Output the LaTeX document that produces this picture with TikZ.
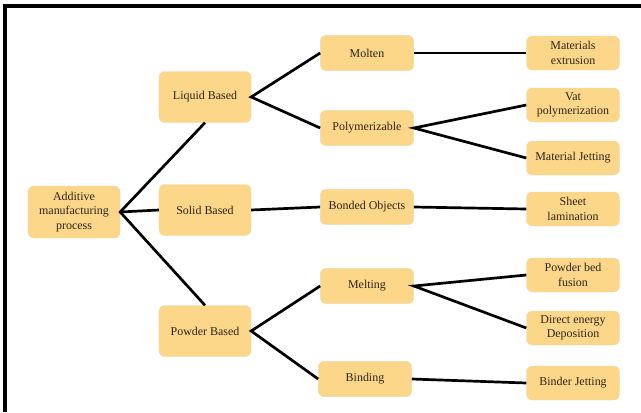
\documentclass[tikz,border=0pt]{standalone}
\usepackage{fontspec}
\setmainfont{Liberation Serif}
\usetikzlibrary{positioning}
\usepackage{xcolor}
\definecolor{amfill}{RGB}{252, 215, 137}
\definecolor{amtext}{RGB}{45, 35, 25}
\tikzset{
  rootbox/.style={
    rectangle, rounded corners=5pt,
    draw=amfill!90!black!60, line width=0.3pt, fill=amfill,
    minimum width=2.76cm, minimum height=1.56cm, align=center,
    font=\rmfamily\fontsize{10.2}{12.4}\selectfont, text=amtext, inner sep=2pt
  },
  catbox/.style={
    rootbox, minimum width=2.76cm, minimum height=1.53cm
  },
  subbox/.style={
    rootbox, minimum width=2.8cm, minimum height=1.06cm
  },
  procbox/.style={
    rootbox, minimum width=2.79cm, minimum height=1.02cm
  },
  conn/.style={line width=2.3pt, color=black},
}
\begin{document}
\begin{tikzpicture}[x=0.03cm, y=-0.03cm]
        \useasboundingbox (0,0) rectangle (641,412);
        % frame
        \draw[line width=2.6pt] (5,412) -- (5,6) -- (641,6);
        % root and categories
        \node[rootbox] (am)  at (74,212)  {Additive\\manufacturing\\process};
        \node[catbox]  (liq) at (205,97)  {Liquid Based};
        \node[catbox]  (sol) at (205,210) {Solid Based};
        \node[catbox]  (pow) at (205,331) {Powder Based};
        % sub categories
        \node[subbox] (mol) at (367,53)  {Molten};
        \node[subbox] (pol) at (367,128) {Polymerizable};
        \node[subbox] (bon) at (367,207) {Bonded Objects};
        \node[subbox] (mel) at (367,286) {Melting};
        \node[subbox] (bin) at (365,379) {Binding};
        % processes
        \node[procbox] (mex) at (573,53)  {Materials\\extrusion};
        \node[procbox] (vat) at (573,105) {Vat\\polymerization};
        \node[procbox] (mjt) at (573,158) {Material Jetting};
        \node[procbox] (shl) at (573,209) {Sheet\\lamination};
        \node[procbox] (pbf) at (573,275) {Powder bed\\fusion};
        \node[procbox] (ded) at (573,328) {Direct energy\\Deposition};
        \node[procbox] (bjt) at (573,383) {Binder Jetting};
        % connectors
        \draw[conn] (liq.south)--(am.east)--(pow.north);
        \draw[conn] (am.east)--(sol.west);
        \draw[conn] (mol.west)--(liq.east)--(pol.west);
        \draw[conn] (mel.west)--(pow.east)--(bin.west);
        \draw[conn] (sol.east)--(bon.west);
        \draw[conn] (mol.east)--(mex.west);
        \draw[conn] (vat.west)--(pol.east)--(mjt.west);
        \draw[conn] (bon.east)--(shl.west);
        \draw[conn] (pbf.west)--(mel.east)--(ded.west);
        \draw[conn] (bin.east)--(bjt.west);
      \end{tikzpicture}
\end{document}
